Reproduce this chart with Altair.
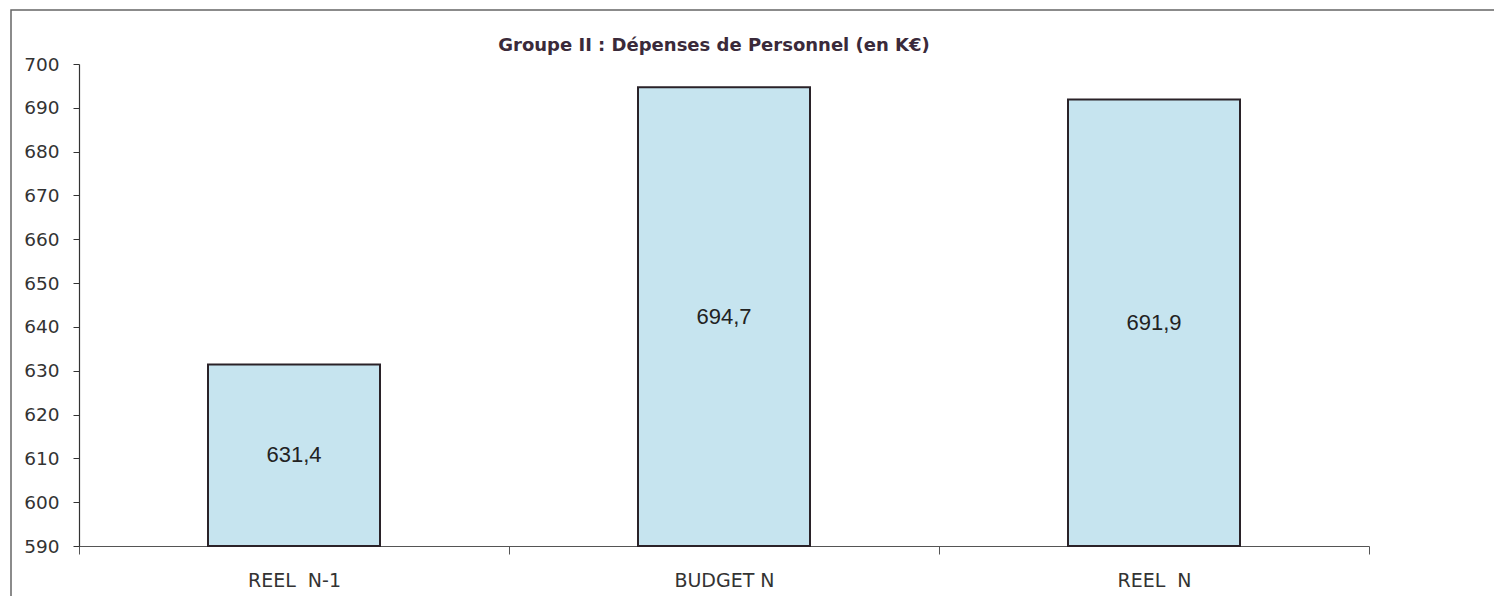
import altair as alt
import pandas as pd

title_text = "Groupe II : Dépenses de Personnel (en K€)"
categories = ["REEL\u00a0\u00a0N-1", "BUDGET N", "REEL\u00a0\u00a0N"]
values = [631.4, 694.7, 691.9]
y_ticks = list(range(590, 701, 10))
y_min, y_max = 590, 700

df = pd.DataFrame({"cat": categories, "v": values})

W, H = 1290, 482

x_enc = alt.X("cat:N", sort=categories, title=None,
              scale=alt.Scale(paddingInner=0, paddingOuter=0),
              axis=alt.Axis(labelAngle=0, tickBand="extent", labelFont="DejaVu Sans",
                            labelFontSize=19, labelColor="#333333", tickSize=8,
                            labelPadding=17, domainColor="#555555", tickColor="#555555",
                            domainWidth=1.2))

base = alt.Chart(df)

bars = base.mark_bar(width={"band": 0.4}, fill="#c6e4ef", stroke="#2a2228",
                     strokeWidth=2).encode(
    x=x_enc,
    y=alt.Y("v:Q", title=None,
            scale=alt.Scale(domain=[y_min, y_max], zero=False, nice=False),
            axis=alt.Axis(values=y_ticks, grid=False, labelFont="DejaVu Sans",
                          labelFontSize=18.5, labelColor="#333333", tickSize=6,
                          labelPadding=14, domainColor="#333333", tickColor="#333333",
                          domainWidth=1.2)),
    y2=alt.datum(y_min),
)

labels = base.transform_calculate(
    mid=f"(datum.v + {y_min}) / 2",
    lab="replace(format(datum.v, '.1f'), '.', ',')",
).mark_text(font="Liberation Sans", fontSize=22, color="#222222",
            baseline="middle").encode(
    x=alt.X("cat:N", sort=categories),
    y=alt.Y("mid:Q"),
    text="lab:N",
)

one = alt.Chart(pd.DataFrame({"t": [title_text]}))

frame = one.mark_rect(
    fill="transparent", stroke="#666666", strokeWidth=1.5
).encode(
    x=alt.value(-68), x2=alt.value(W + 300),
    y=alt.value(-54), y2=alt.value(H + 300),
)

title = one.mark_text(font="DejaVu Sans", fontSize=18, fontWeight="bold",
                      color="#3a2a3a", align="center", baseline="middle").encode(
    x=alt.value(W / 2 - 10), y=alt.value(-18), text="t:N",
)

chart = alt.layer(frame, bars, labels, title).properties(
    width=W, height=H,
    background="white",
    view=alt.ViewBackground(strokeOpacity=0, strokeWidth=0),
    autosize=alt.AutoSizeParams(type="none"),
    padding={"left": 71, "top": 56, "right": 125, "bottom": 50},
).configure_view(strokeOpacity=0, strokeWidth=0)

chart.save("out.html", embed_options={"renderer": "svg", "actions": False})
